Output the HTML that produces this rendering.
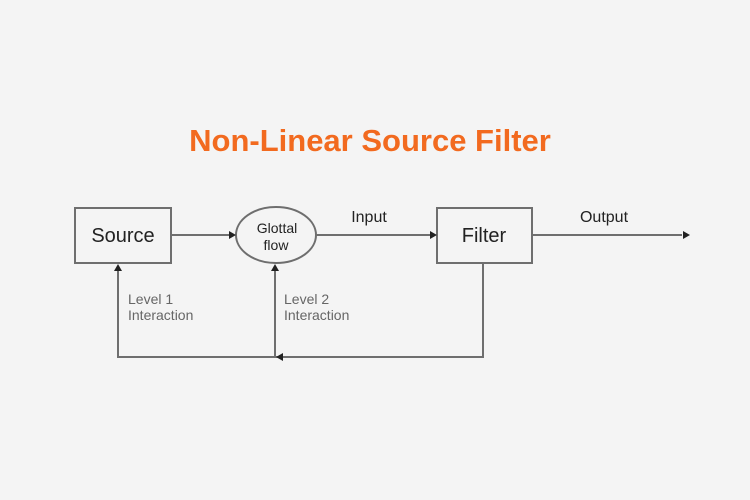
<!DOCTYPE html>
<html><head><style>
body{margin:0;background:#f4f4f4;}
svg{display:block}
text{font-family:"Liberation Sans",sans-serif;}
</style></head><body>
<svg width="750" height="500" viewBox="0 0 750 500">
<rect width="750" height="500" fill="#f4f4f4"/>
<text x="370" y="151" text-anchor="middle" font-size="31" font-weight="bold" fill="#f26a1f">Non-Linear Source Filter</text>
<g stroke="#6e6e6e" stroke-width="2" fill="none">
<rect x="75" y="208" width="96" height="55"/>
<ellipse cx="276" cy="235" rx="40" ry="28"/>
<rect x="437" y="208" width="95" height="55"/>
<line x1="171" y1="235" x2="230" y2="235"/>
<line x1="316" y1="235" x2="431" y2="235"/>
<line x1="532" y1="235" x2="682" y2="235"/>
<polyline points="483,263 483,357 118,357 118,270"/>
<line x1="275" y1="357" x2="275" y2="270"/>
</g>
<g fill="#222">
<polygon points="236,235 229,231 229,239"/>
<polygon points="437,235 430,231 430,239"/>
<polygon points="690,235 683,231 683,239"/>
<polygon points="118,264 114,271 122,271"/>
<polygon points="275,264 271,271 279,271"/>
<polygon points="276,357 283,353 283,361"/>
</g>
<g fill="#222">
<text x="123" y="242" text-anchor="middle" font-size="20">Source</text>
<text x="484" y="242" text-anchor="middle" font-size="20">Filter</text>
<text x="277" y="233" text-anchor="middle" font-size="14">Glottal</text>
<text x="276" y="250" text-anchor="middle" font-size="14">flow</text>
<text x="369" y="222" text-anchor="middle" font-size="16">Input</text>
<text x="604" y="222" text-anchor="middle" font-size="16">Output</text>
</g>
<g fill="#666" font-size="14">
<text x="128" y="304">Level 1</text>
<text x="128" y="320">Interaction</text>
<text x="284" y="304">Level 2</text>
<text x="284" y="320">Interaction</text>
</g>
</svg>
</body></html>
